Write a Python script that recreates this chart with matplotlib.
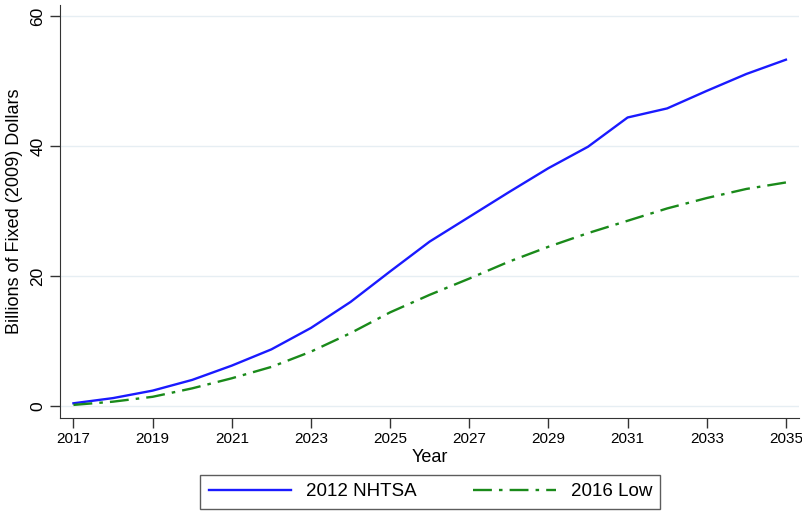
import matplotlib.pyplot as plt
import numpy as np

# Values (billions of 2009 dollars)
years = np.arange(2017, 2036)
nhtsa_2012 = [0.4, 1.2, 2.35, 4.0, 6.2, 8.7, 12.0, 16.0, 20.7, 25.3,
              29.1, 32.9, 36.6, 39.9, 44.4, 45.8, 48.5, 51.1, 53.3]
low_2016 = [0.15, 0.65, 1.4, 2.7, 4.25, 6.0, 8.35, 11.2, 14.4, 17.1,
            19.6, 22.2, 24.5, 26.6, 28.5, 30.4, 32.0, 33.4, 34.4]
x_ticks = np.arange(2017, 2036, 2)
y_ticks = [0, 20, 40, 60]

plt.rcParams['font.family'] = ['Liberation Sans', 'DejaVu Sans']

fig = plt.figure(figsize=(8.03, 5.13), dpi=100)
ax = fig.add_axes([0.0747, 0.186, 0.9203, 0.804])

ax.plot(years, nhtsa_2012, color="#1a1aff", lw=1.7, label="2012 NHTSA")
ax.plot(years, low_2016, color="#1a8a1a", lw=1.7, linestyle=(0, (8, 3, 1.5, 3)),
        label="2016 Low")

ax.set_xlim(2016.66, 2035.33)
ax.set_ylim(-1.8, 61.7)
ax.set_xticks(x_ticks)
ax.set_yticks(y_ticks)
ax.tick_params(axis="both", length=7, width=1, color="#333333")
ax.tick_params(axis="x", labelsize=11)
ax.tick_params(axis="y", labelsize=12.5, labelrotation=90)
for lbl in ax.get_yticklabels():
    lbl.set_va("center")
ax.grid(axis="y", color="#e6eef3", lw=1)
ax.set_axisbelow(True)
for side in ["top", "right"]:
    ax.spines[side].set_visible(False)
for side in ["left", "bottom"]:
    ax.spines[side].set_color("#333333")

ax.set_xlabel("Year", fontsize=13, labelpad=2)
ax.set_ylabel("Billions of Fixed (2009) Dollars", fontsize=13, labelpad=5)

leg = fig.legend(loc="lower center", bbox_to_anchor=(0.536, -0.003), ncol=2,
                 fontsize=13.5, frameon=True, fancybox=False, edgecolor="#333333",
                 handlelength=4.4, handletextpad=0.8, columnspacing=3.0,
                 borderpad=0.45, borderaxespad=0.3)
leg.get_frame().set_linewidth(1)

fig.savefig("out.png", dpi=100)
